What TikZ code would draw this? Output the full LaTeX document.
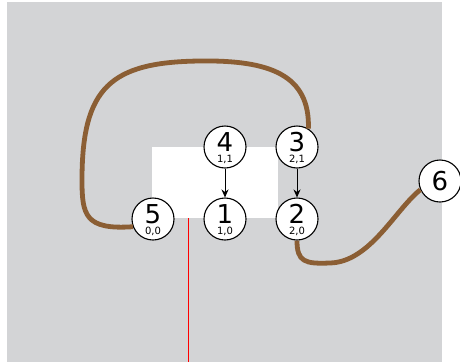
\documentclass[tikz,border=0pt]{standalone}
\usepackage{fontspec}
\setmainfont{DejaVu Sans}
\usetikzlibrary{arrows.meta}
\definecolor{bgray}{RGB}{211,212,214}
\definecolor{wire}{RGB}{139,94,52}
\begin{document}
\begin{tikzpicture}[x=1pt,y=-1pt,
 vert/.style={circle,draw=black,fill=white,line width=1.1pt,minimum size=42pt,inner sep=0pt},
 big/.style={font=\fontsize{26}{26}\selectfont,inner sep=0pt},
 sub/.style={font=\fontsize{10}{10}\selectfont,inner sep=0pt},
 wirest/.style={draw=wire,line width=4.8pt},
 arr/.style={-{Stealth[length=8pt,width=7pt]},line width=1pt}]
\useasboundingbox (0,0) rectangle (460,362);
\fill[bgray] (7,2) rectangle (442,362);
\fill[white] (152,147) rectangle (278,218);
\coordinate (rtop) at (188,218);
\coordinate (rbot) at (188,362);
\draw[red,line width=0.8pt] (rtop) -- (rbot);
% nodes
\node[vert] (n5) at (153,219) {};
\node[vert] (n1) at (225,219) {};
\node[vert] (n2) at (297,219) {};
\node[vert] (n4) at (225,147) {};
\node[vert] (n3) at (297,147) {};
\node[vert] (n6) at (440,181) {};
\node[big] (t5) at ([yshift=5pt]n5.center) {5};
\node[big] (t1) at ([yshift=5pt]n1.center) {1};
\node[big] (t2) at ([yshift=5pt]n2.center) {2};
\node[big] (t4) at ([yshift=5pt]n4.center) {4};
\node[big] (t3) at ([yshift=5pt]n3.center) {3};
\node[big] (t6) at (n6.center) {6};
\node[sub] (s5) at ([yshift=-12.5pt]n5.center) {0,0};
\node[sub] (s1) at ([yshift=-12.5pt]n1.center) {1,0};
\node[sub] (s2) at ([yshift=-12.5pt]n2.center) {2,0};
\node[sub] (s4) at ([yshift=-12.5pt]n4.center) {1,1};
\node[sub] (s3) at ([yshift=-12.5pt]n3.center) {2,1};
% arrows
\draw[arr] (n4) -- (n1);
\draw[arr] (n3) -- (n2);
% wires
\draw[wirest] (n5.201) .. controls (85,230) and (82,215) .. (82,180)
  .. controls (82,88) and (110,62) .. (200,61)
  .. controls (270,60) and (310,75) .. (n3.58);
\draw[wirest] (n2.270) .. controls (297,262) and (305,264) .. (330,263)
  .. controls (370,262) and (395,210) .. (n6.204);
\end{tikzpicture}
\end{document}
